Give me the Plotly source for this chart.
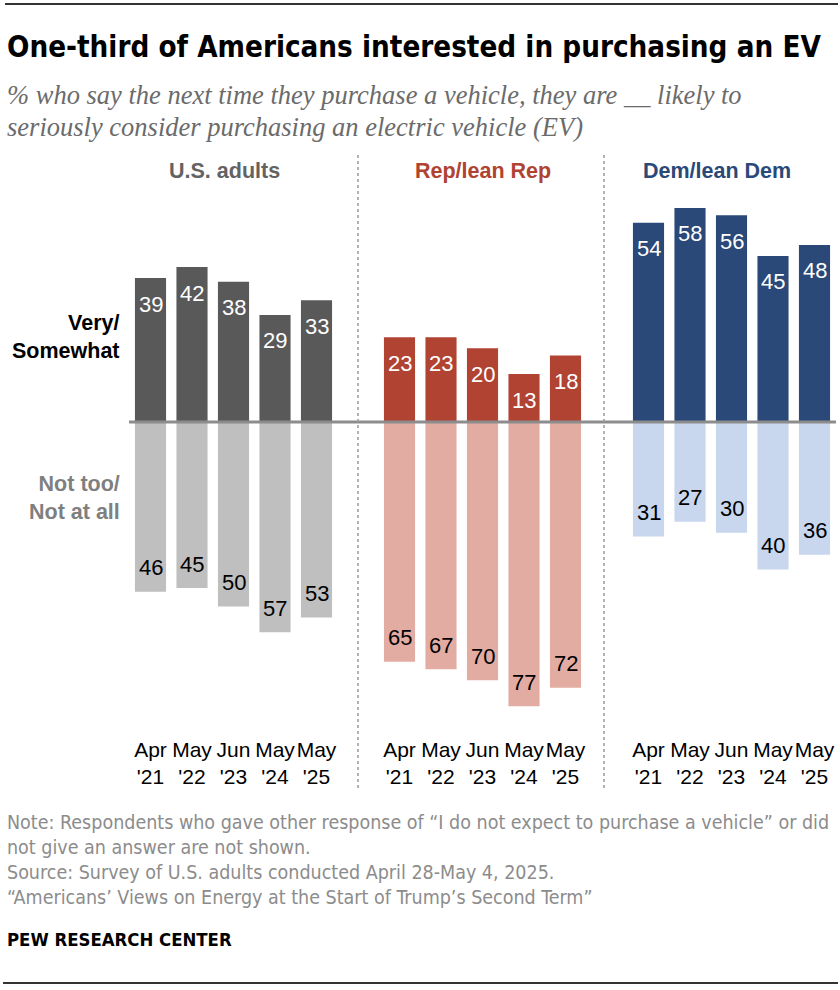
import plotly.graph_objects as go

# ---------------- data ----------------
dates = ["Apr<br>'21", "May<br>'22", "Jun<br>'23", "May<br>'24", "May<br>'25"]
groups = ["U.S. adults", "Rep/lean Rep", "Dem/lean Dem"]

us_very = [39, 42, 38, 29, 33]
us_not = [46, 45, 50, 57, 53]
rep_very = [23, 23, 20, 13, 18]
rep_not = [65, 67, 70, 77, 72]
dem_very = [54, 58, 56, 45, 48]
dem_not = [31, 27, 30, 40, 36]

very_vals = [us_very, rep_very, dem_very]
not_vals = [us_not, rep_not, dem_not]

# ---------------- styles ----------------
dark_colors = ["#595959", "#b04332", "#2a4978"]
light_colors = ["#bfbfbf", "#e2aca2", "#c8d6ee"]
title_colors = ["#636363", "#b04332", "#2a4978"]

SANS = "Liberation Sans, Arial, sans-serif"
COND = "DejaVu Sans Condensed, Liberation Sans, Arial, sans-serif"
SERIF = "Liberation Serif, serif"

W, H = 840, 990
BASE = 422          # px of zero line
PX = 3.69           # px per percentage point
AX_BOT = 735        # px of bottom of plotting area
y_top = BASE / PX
y_bot = -(AX_BOT - BASE) / PX

panel_starts = [129.75, 378.75, 627.75]
panel_w = 207.5
title_x = [224, 483, 717]


def py(p):
    return 1 - p / H


def pxx(p):
    return p / W


fig = go.Figure()
axis_names = ["x", "x2", "x3"]
annotations = []

for i in range(3):
    ax = axis_names[i]
    fig.add_trace(go.Bar(x=dates, y=very_vals[i], xaxis=ax, yaxis="y",
                         marker=dict(color=dark_colors[i], line=dict(width=0)),
                         hoverinfo="skip", showlegend=False))
    fig.add_trace(go.Bar(x=dates, y=[-v for v in not_vals[i]], xaxis=ax, yaxis="y",
                         marker=dict(color=light_colors[i], line=dict(width=0)),
                         hoverinfo="skip", showlegend=False))
    for d, v in zip(dates, very_vals[i]):
        annotations.append(dict(x=d, y=v, xref=ax, yref="y", text=str(v), showarrow=False,
                                yshift=-26, yanchor="middle",
                                font=dict(family=SANS, size=22, color="white")))
    for d, v in zip(dates, not_vals[i]):
        annotations.append(dict(x=d, y=-v, xref=ax, yref="y", text=str(v), showarrow=False,
                                yshift=24, yanchor="middle",
                                font=dict(family=SANS, size=22, color="black")))
    annotations.append(dict(x=pxx(title_x[i]), y=py(171), xref="paper", yref="paper",
                            text="<b>" + groups[i] + "</b>", showarrow=False,
                            xanchor="center", yanchor="middle",
                            font=dict(family=SANS, size=21.5, color=title_colors[i])))

# title / subtitle
annotations.append(dict(x=pxx(5), y=py(47), xref="paper", yref="paper",
                        text="<b>One-third of Americans interested in purchasing an EV</b>",
                        showarrow=False, xanchor="left", yanchor="middle",
                        font=dict(family=COND, size=29.3, color="black")))
subtitle_lines = [
    (95, "% who say the next time they purchase a vehicle, they are __ likely to"),
    (127, "seriously consider purchasing an electric vehicle (EV)"),
]
for yy, t in subtitle_lines:
    annotations.append(dict(x=pxx(5), y=py(yy), xref="paper", yref="paper",
                            text="<i>" + t + "</i>",
                            showarrow=False, xanchor="left", yanchor="middle", align="left",
                            font=dict(family=SERIF, size=26.5, color="#6b6b6b")))

# row labels
annotations.append(dict(x=pxx(122), y=py(337), xref="paper", yref="paper",
                        text="<b>Very/<br>Somewhat</b>", showarrow=False,
                        xanchor="right", yanchor="middle", align="right",
                        font=dict(family=SANS, size=21.5, color="black")))
annotations.append(dict(x=pxx(122), y=py(498), xref="paper", yref="paper",
                        text="<b>Not too/<br>Not at all</b>", showarrow=False,
                        xanchor="right", yanchor="middle", align="right",
                        font=dict(family=SANS, size=21.5, color="#7f7f7f")))

# footer
footer_lines = [
    (822, "Note: Respondents who gave other response of “I do not expect to purchase a vehicle” or did"),
    (847, "not give an answer are not shown."),
    (872, "Source: Survey of U.S. adults conducted April 28-May 4, 2025."),
    (897, "“Americans’ Views on Energy at the Start of Trump’s Second Term”"),
]
for yy, t in footer_lines:
    annotations.append(dict(x=pxx(5), y=py(yy), xref="paper", yref="paper", text=t,
                            showarrow=False, xanchor="left", yanchor="middle",
                            font=dict(family=COND, size=19.5, color="#8c8c8c")))
annotations.append(dict(x=pxx(5), y=py(939), xref="paper", yref="paper",
                        text="<b>PEW RESEARCH CENTER</b>", showarrow=False,
                        xanchor="left", yanchor="middle",
                        font=dict(family=COND, size=18.4, color="black")))

shapes = [
    dict(type="line", xref="paper", yref="paper", x0=pxx(5), x1=pxx(838), y0=py(4), y1=py(4),
         line=dict(color="#333333", width=2)),
    dict(type="line", xref="paper", yref="paper", x0=pxx(3), x1=pxx(838), y0=py(983), y1=py(983),
         line=dict(color="#333333", width=2)),
    dict(type="line", xref="paper", yref="y", x0=pxx(129), x1=pxx(836), y0=0, y1=0,
         line=dict(color="#8c8c8c", width=3), layer="above"),
]
for sx in (358, 604):
    shapes.append(dict(type="line", xref="paper", yref="paper", x0=pxx(sx), x1=pxx(sx),
                       y0=py(155), y1=py(791), line=dict(color="#999999", width=1.5, dash="dot")))

layout = dict(
    width=W, height=H,
    margin=dict(l=0, r=0, t=0, b=0),
    paper_bgcolor="white", plot_bgcolor="white",
    barmode="overlay", bargap=0.25,
    showlegend=False,
    annotations=annotations,
    shapes=shapes,
    yaxis=dict(domain=[1 - AX_BOT / H, 1], range=[y_bot, y_top], visible=False, fixedrange=True),
)
for i in range(3):
    key = "xaxis" if i == 0 else "xaxis%d" % (i + 1)
    layout[key] = dict(
        domain=[pxx(panel_starts[i]), pxx(panel_starts[i] + panel_w)],
        anchor="y", type="category", showgrid=False, zeroline=False, showline=False,
        ticks="", fixedrange=True, tickangle=0,
        tickfont=dict(family=SANS, size=21, color="black"),
    )
fig.update_layout(**layout)

fig.write_html("out.html", config={"displayModeBar": False},
               post_script="document.body.style.margin='0px';document.body.style.overflow='hidden';")
